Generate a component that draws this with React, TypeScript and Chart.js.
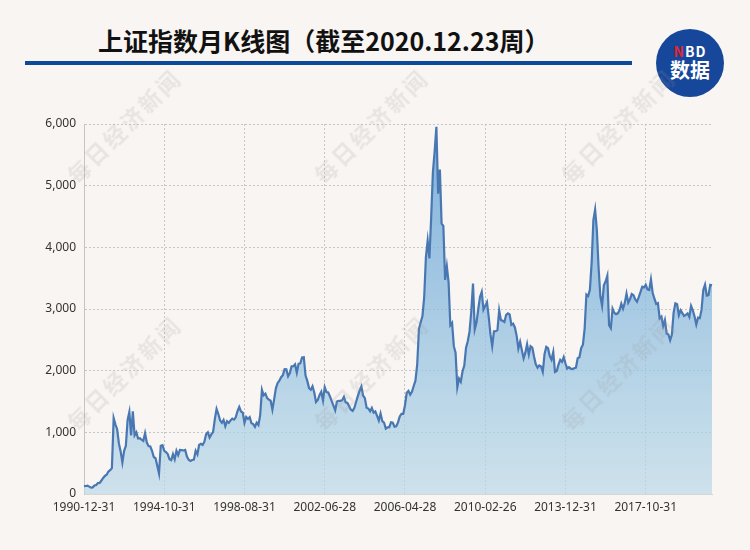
import React, { useEffect, useRef } from 'react';
import { Chart, registerables } from 'chart.js';

Chart.register(...registerables);

// ---- data ----
const startYear = 1990;
const startMonth = 12;
const monthCount = 361;
const months: string[] = Array.from({ length: monthCount }, (_, i) => {
  const m0 = startMonth - 1 + i;
  const y = startYear + Math.floor(m0 / 12);
  const m = (m0 % 12) + 1;
  return `${y}-${String(m).padStart(2, '0')}`;
});

const tickLabels = ['1990-12-31', '1994-10-31', '1998-08-31', '2002-06-28', '2006-04-28', '2010-02-26', '2013-12-31', '2017-10-31'];
const tickStep = 46;

const closes1990_1995 = [
  127.6,
  130, 134, 120, 104, 108, 137, 145, 178, 181, 219, 260, 293,
  313, 365, 385, 420, 1230, 1130, 1050, 820, 690, 510, 700, 780,
  1200, 1330, 950, 1340, 950, 1000, 900, 905, 880, 860, 985, 834,
  776, 770, 700, 600, 580, 460, 334, 780, 790, 700, 680, 648,
  563, 549, 647, 562, 700, 630, 714, 712, 706, 716, 608, 555,
];
const closes1996_2000 = [
  537, 551, 557, 700, 644, 795, 815, 795, 849, 967, 1000, 917,
  967, 1004, 1214, 1380, 1297, 1195, 1154, 1201, 1097, 1180, 1155, 1194,
  1222, 1206, 1243, 1343, 1411, 1339, 1319, 1153, 1248, 1217, 1247, 1147,
  1134, 1090, 1158, 1120, 1280, 1689, 1601, 1627, 1556, 1532, 1512, 1367,
  1535, 1714, 1801, 1836, 1894, 1928, 2023, 2021, 1910, 1961, 2071, 2073,
];
const closes2001_2005 = [
  2103, 1967, 2112, 2120, 2214, 2218, 1921, 1834, 1717, 1690, 1747, 1646,
  1491, 1524, 1603, 1657, 1516, 1732, 1653, 1646, 1581, 1507, 1433, 1357,
  1500, 1511, 1510, 1521, 1576, 1487, 1476, 1422, 1367, 1348, 1397, 1497,
  1590, 1675, 1742, 1595, 1555, 1399, 1386, 1342, 1396, 1320, 1340, 1266,
  1191, 1306, 1181, 1159, 1060, 1080, 1083, 1162, 1155, 1092, 1099, 1161,
];
const closes2006_2010 = [
  1258, 1299, 1298, 1440, 1641, 1672, 1612, 1658, 1752, 1838, 2099, 2675,
  2786, 2881, 3183, 3841, 4109, 3820, 4471, 5218, 5552, 5954, 4871, 5262,
  4383, 4348, 3472, 3693, 3433, 2736, 2775, 2397, 2293, 1729, 1871, 1821,
  1991, 2082, 2373, 2477, 2632, 2959, 3412, 2668, 2779, 2996, 3195, 3277,
  2989, 3051, 3110, 2871, 2592, 2398, 2638, 2639, 2656, 2979, 2820, 2808,
];
const closes2011_2015 = [
  2790, 2905, 2928, 2911, 2743, 2762, 2701, 2568, 2359, 2468, 2333, 2199,
  2292, 2428, 2263, 2396, 2373, 2225, 2103, 2047, 2086, 2069, 1980, 2269,
  2385, 2365, 2237, 2177, 2301, 1979, 1994, 2098, 2175, 2142, 2220, 2116,
  2033, 2056, 2033, 2026, 2039, 2048, 2202, 2217, 2364, 2420, 2683, 3235,
  3210, 3310, 3748, 4442, 4612, 4277, 3664, 3206, 3053, 3383, 3445, 3539,
];
const closes2016_2020 = [
  2738, 2688, 3004, 2938, 2917, 2930, 2979, 3085, 3005, 3100, 3250, 3104,
  3159, 3242, 3223, 3155, 3117, 3192, 3273, 3361, 3349, 3393, 3317, 3307,
  3481, 3259, 3169, 3082, 3095, 2847, 2876, 2725, 2821, 2603, 2588, 2494,
  2585, 2941, 3091, 3078, 2899, 2979, 2933, 2886, 2905, 2929, 2872, 3050,
  2977, 2880, 2750, 2860, 2852, 2985, 3310, 3396, 3218, 3225, 3392, 3383,
];
const closeValues = [
  ...closes1990_1995, ...closes1996_2000, ...closes2001_2005,
  ...closes2006_2010, ...closes2011_2015, ...closes2016_2020,
];

const yTicksMax = 6000;
const yTicksStep = 1000;

const titleText = '上证指数月K线图（截至2020.12.23周）';
const watermarkText = '每日经济新闻';
const watermarkSpots = [
  [123, 125], [370, 125], [617, 125],
  [123, 372], [370, 372], [617, 372],
];

const BG = '#f8f5f2';
const tickFont = { family: '"Noto Sans", "DejaVu Sans", sans-serif', size: 12 };

export default function App() {
  const canvasRef = useRef<HTMLCanvasElement | null>(null);

  useEffect(() => {
    const canvas = canvasRef.current;
    if (!canvas) return;
    const chart = new Chart(canvas, {
      type: 'line',
      data: {
        labels: months,
        datasets: [
          {
            data: closeValues,
            borderColor: '#4877b2',
            borderWidth: 2.2,
            pointRadius: 0,
            pointHoverRadius: 0,
            tension: 0,
            fill: 'origin',
            backgroundColor: (ctx: any) => {
              const { chart: c } = ctx;
              const area = c.chartArea;
              if (!area) return 'rgba(170,205,225,0.7)';
              const g = c.ctx.createLinearGradient(0, area.top, 0, area.bottom);
              g.addColorStop(0, 'rgba(95,160,215,0.8)');
              g.addColorStop(1, 'rgba(190,218,232,0.72)');
              return g;
            },
          },
        ],
      },
      options: {
        responsive: false,
        animation: false,
        devicePixelRatio: 1,
        layout: { padding: { top: 124, right: 38, bottom: 0, left: 0 } },
        plugins: {
          legend: { display: false },
          tooltip: { enabled: false },
          title: { display: false },
        },
        scales: {
          x: {
            type: 'category',
            offset: false,
            grid: { color: '#c6c6c6', lineWidth: 1, drawTicks: false },
            border: { display: true, color: '#d6d6d6', dash: [2, 2] },
            ticks: {
              autoSkip: false,
              maxRotation: 0,
              minRotation: 0,
              padding: 6,
              color: '#333',
              font: tickFont,
              callback: (v: any) => tickLabels[Number(v) / tickStep] ?? '',
            },
            afterBuildTicks: (s: any) => {
              s.ticks = s.ticks.filter((t: any) => t.value % tickStep === 0);
            },
            afterFit: (s: any) => {
              s.height = 56;
            },
          },
          y: {
            min: 0,
            max: yTicksMax,
            grid: { color: '#c6c6c6', lineWidth: 1, drawTicks: false },
            border: { display: true, color: '#c4c4c4', dash: [2, 2] },
            ticks: {
              stepSize: yTicksStep,
              padding: 8,
              color: '#333',
              font: tickFont,
              callback: (v: any) => Number(v).toLocaleString('en-US'),
            },
            afterFit: (s: any) => {
              s.width = 84;
            },
          },
        },
      },
    } as any);
    return () => chart.destroy();
  }, []);

  return (
    <div
      style={{
        position: 'absolute',
        left: 0,
        top: 0,
        width: 750,
        height: 550,
        background: BG,
        overflow: 'hidden',
      }}
    >
      <div
        style={{
          position: 'absolute',
          left: 98,
          top: 26,
          fontFamily: '"Noto Sans CJK SC", "Noto Sans", sans-serif',
          fontWeight: 700,
          fontSize: 25,
          lineHeight: '28px',
          color: '#111',
          whiteSpace: 'nowrap',
        }}
      >
        {titleText}
      </div>
      <div
        style={{
          position: 'absolute',
          left: 25,
          top: 61,
          width: 607,
          height: 4,
          background: '#0d4a9a',
        }}
      />
      <div
        style={{
          position: 'absolute',
          left: 656,
          top: 29,
          width: 68,
          height: 68,
          borderRadius: '50%',
          background: '#17479b',
          color: '#fff',
          fontFamily: '"Noto Sans CJK SC", "Noto Sans", sans-serif',
          fontWeight: 700,
          textAlign: 'center',
        }}
      >
        <div style={{ position: 'absolute', left: 0, right: 0, top: 14, fontSize: 14, lineHeight: '16px', letterSpacing: 1 }}>
          <span style={{ color: '#e8232c' }}>N</span>BD
        </div>
        <div style={{ position: 'absolute', left: 0, right: 0, top: 30, fontSize: 20, lineHeight: '22px' }}>数据</div>
      </div>
      <canvas
        ref={canvasRef}
        width={750}
        height={550}
        style={{ position: 'absolute', left: 0, top: 0, display: 'block' }}
      />
      {watermarkSpots.map(([x, y], i) => (
        <div
          key={i}
          style={{
            position: 'absolute',
            left: x,
            top: y,
            transform: 'translate(-50%, -50%) rotate(-45deg)',
            fontFamily: '"Noto Sans CJK SC", sans-serif',
            fontWeight: 700,
            fontSize: 22,
            letterSpacing: 3,
            color: 'rgba(150,150,150,0.17)',
            whiteSpace: 'nowrap',
            pointerEvents: 'none',
          }}
        >
          {watermarkText}
        </div>
      ))}
    </div>
  );
}
